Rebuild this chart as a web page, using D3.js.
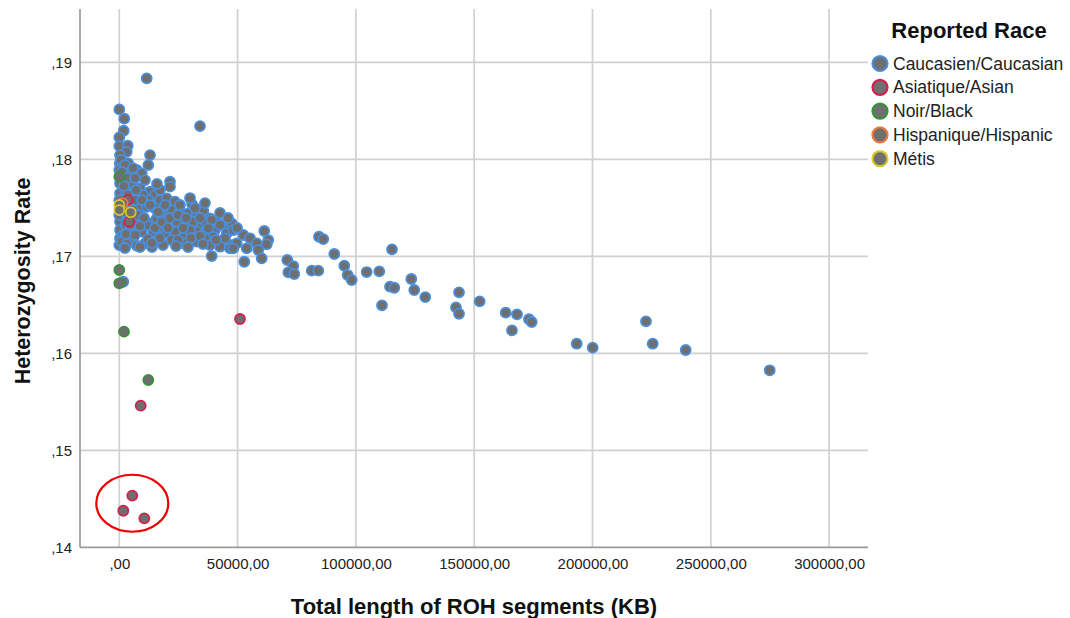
<!DOCTYPE html>
<html>
<head>
<meta charset="utf-8">
<script src="https://cdn.jsdelivr.net/npm/d3@7"></script>
<style>
  body { margin: 0; background: #fff; }
  text { font-family: "Liberation Sans", Arial, sans-serif; }
</style>
</head>
<body>
<script>
// chart size
var w = 1070;
var h = 618;

// axis ticks
var xTicks = [0, 50000, 100000, 150000, 200000, 250000, 300000];
var xTickLabels = [",00", "50000,00", "100000,00", "150000,00", "200000,00", "250000,00", "300000,00"];
var yTicks = [0.14, 0.15, 0.16, 0.17, 0.18, 0.19];
var yTickLabels = [",14", ",15", ",16", ",17", ",18", ",19"];

// groups (legend order)
var groups = ["Caucasien/Caucasian", "Asiatique/Asian", "Noir/Black", "Hispanique/Hispanic", "Métis"];
var groupColors = ["#4a8fdc", "#d3204f", "#3a8f3a", "#e57a3c", "#d6c62c"];

// [ROH total length (KB), heterozygosity rate]
var caucasian = [
  [11580, .18835], [0, .18515], [2110, .18419], [34110, .18343], [1860, .18295],
  [0, .18227], [0, .18137], [3550, .18140], [12980, .18044], [3130, .18078],
  [300, .18044], [200, .17959], [3800, .17959], [12260, .17941], [4520, .17872],
  [7350, .17890], [9470, .17856], [21430, .17769], [21430, .17718], [300, .17753],
  [5240, .17753], [8750, .17701], [12980, .17666], [15090, .17632], [12260, .17580],
  [17200, .17580], [20030, .17598], [23540, .17563], [300, .17649], [5920, .17632],
  [8750, .17495], [11580, .17511], [15090, .17495], [19320, .17426], [22150, .17477],
  [25650, .17460], [29160, .17443], [32710, .17426], [35500, .17470], [300, .17357],
  [7350, .17374], [12980, .17340], [15810, .17392], [20030, .17340], [24260, .17357],
  [27770, .17323], [31280, .17357], [34830, .17323], [38330, .17392], [41170, .17357],
  [44670, .17323], [47510, .17340], [300, .17271], [4520, .17271], [9470, .17254],
  [14370, .17254], [19320, .17237], [23540, .17254], [27770, .17220], [32710, .17254],
  [36940, .17271], [40450, .17271], [45390, .17237], [48180, .17271], [300, .17186],
  [5920, .17186], [10860, .17134], [16480, .17151], [22150, .17168], [27050, .17134],
  [32710, .17151], [38330, .17186], [43960, .17168], [47510, .17116], [49620, .17134],
  [36220, .17357], [39050, .17374], [42560, .17323], [37620, .17289], [39730, .17202],
  [44670, .17186], [36220, .17186], [38330, .17116], [42560, .17099], [46790, .17082],
  [39050, .17003], [48180, .17082], [52410, .17220], [55240, .17186], [53850, .17082],
  [58070, .17134], [58750, .17065], [60180, .16979], [52830, .16944], [61280, .17261],
  [62970, .17168], [62300, .17124], [71000, .16962], [73540, .16900], [71430, .16835],
  [73960, .16818], [81320, .16852], [84110, .16852], [84400, .17202], [86220, .17178],
  [90870, .17024], [95100, .16903], [96530, .16807], [98220, .16756], [104560, .16838],
  [109890, .16845], [115260, .17072], [114410, .16687], [116230, .16676], [111030, .16495],
  [123410, .16766], [124680, .16653], [129330, .16580], [143580, .16629], [142310, .16474],
  [143580, .16408], [152320, .16536], [163310, .16419], [168090, .16402], [165970, .16237],
  [173160, .16351], [174300, .16323], [193320, .16099], [200080, .16058], [222610, .16330],
  [225440, .16099], [239390, .16034], [274900, .15825], [1690, .16738],
  [0, .17890], [0, .17580], [0, .17426], [0, .17116], [700, .17995], [1100, .17807],
  [2400, .17684], [2800, .17323], [1600, .17220], [1100, .17150], [2000, .17511],
  [3300, .17426], [6640, .17580], [10000, .17632], [17200, .17446], [11700, .17323],
  [16360, .17292], [29880, .17271], [24800, .17168], [18470, .17116], [7480, .17107],
  [13820, .17096], [30720, .17539],
  [2410, .17941], [5790, .17910], [1140, .17869], [3250, .17807], [6640, .17807],
  [10860, .17786], [1990, .17725], [7060, .17684], [3680, .17632], [9600, .17580],
  [12980, .17529], [2410, .17457], [5790, .17477], [7900, .17426], [10440, .17395],
  [4520, .17323], [8750, .17312], [15090, .17292], [2830, .17230], [6640, .17220],
  [12130, .17178], [17200, .17189], [3250, .17127], [8750, .17096], [13820, .17137],
  [18050, .17354], [17200, .17684], [15930, .17746], [19320, .17529], [16360, .17457],
  [2410, .17086], [21430, .17395], [24800, .17426], [28190, .17395], [31980, .17498],
  [26920, .17292], [30300, .17189], [34110, .17209], [35380, .17127], [29040, .17096],
  [23960, .17106], [20580, .17292], [25650, .17529], [40870, .17168], [42560, .17447],
  [45950, .17395], [49750, .17292], [34110, .17395], [36220, .17549], [29880, .17601]
];
var asian = [
  [3550, .17580], [4230, .17357], [51010, .16354], [9040, .15460],
  [5490, .14532], [1690, .14377], [10570, .14299]
];
var black = [
  [0, .17821], [0, .16859], [0, .16722], [1990, .16223], [12260, .15725]
];
var hispanic = [
  [1440, .17546]
];
var metis = [
  [0, .17529], [0, .17477], [4820, .17454]
];
var seriesData = [caucasian, asian, black, hispanic, metis];

// highlighted outliers (centre in data units)
var ringCentre = [5490, 0.14454];

var plot = { left: 80, right: 868, top: 9, bottom: 547.3 };

var xScale = d3.scaleLinear()
  .domain([-16610, 316441])
  .range([plot.left, plot.right]);

var yScale = d3.scaleLinear()
  .domain([0.14, 0.1955])
  .range([plot.bottom, plot.top]);

var svg = d3.select("body")
  .append("svg")
  .attr("width", w)
  .attr("height", h);

//gridlines
svg.append("g")
  .selectAll("line")
  .data(yTicks.slice(1))
  .enter()
  .append("line")
  .attr("x1", plot.left)
  .attr("x2", plot.right)
  .attr("y1", function(d) { return yScale(d); })
  .attr("y2", function(d) { return yScale(d); })
  .attr("stroke", "#d0d0d0")
  .attr("stroke-width", 1.7);

svg.append("g")
  .selectAll("line")
  .data(xTicks)
  .enter()
  .append("line")
  .attr("x1", function(d) { return xScale(d); })
  .attr("x2", function(d) { return xScale(d); })
  .attr("y1", plot.top)
  .attr("y2", plot.bottom)
  .attr("stroke", "#d0d0d0")
  .attr("stroke-width", 1.7);

//axes
var xAxis = d3.axisBottom(xScale)
  .tickValues(xTicks)
  .tickFormat(function(d, i) { return xTickLabels[i]; })
  .tickSize(0)
  .tickPadding(11);

var yAxis = d3.axisLeft(yScale)
  .tickValues(yTicks)
  .tickFormat(function(d, i) { return yTickLabels[i]; })
  .tickSize(0)
  .tickPadding(8);

var gx = svg.append("g")
  .attr("transform", "translate(0," + plot.bottom + ")")
  .call(xAxis);
var gy = svg.append("g")
  .attr("transform", "translate(" + plot.left + ",0)")
  .call(yAxis);

[gx, gy].forEach(function(g) {
  g.select(".domain").remove();
  g.selectAll("text")
    .attr("font-family", "'Liberation Sans', Arial, sans-serif")
    .attr("font-size", "15px")
    .attr("fill", "#222");
});

svg.append("line")
  .attr("x1", plot.left).attr("x2", plot.right)
  .attr("y1", plot.bottom).attr("y2", plot.bottom)
  .attr("stroke", "#9a9a9a").attr("stroke-width", 1.7);
svg.append("line")
  .attr("x1", plot.left).attr("x2", plot.left)
  .attr("y1", plot.top).attr("y2", plot.bottom)
  .attr("stroke", "#9a9a9a").attr("stroke-width", 1.7);

//points
seriesData.forEach(function(pts, gi) {
  svg.append("g")
    .selectAll("circle")
    .data(pts)
    .enter()
    .append("circle")
    .attr("cx", function(d) { return xScale(d[0]); })
    .attr("cy", function(d) { return yScale(d[1]); })
    .attr("r", 5)
    .attr("fill", "#6f6f6f")
    .attr("stroke", groupColors[gi])
    .attr("stroke-width", 1.8);
});

//red ring around the low outliers
svg.append("ellipse")
  .attr("cx", xScale(ringCentre[0]))
  .attr("cy", yScale(ringCentre[1]))
  .attr("rx", 36)
  .attr("ry", 28.5)
  .attr("fill", "none")
  .attr("stroke", "#ee0000")
  .attr("stroke-width", 2.2);

//axis titles
svg.append("text")
  .attr("x", 474)
  .attr("y", 614)
  .attr("text-anchor", "middle")
  .attr("font-size", "22px")
  .attr("font-weight", "bold")
  .attr("fill", "#111")
  .text("Total length of ROH segments (KB)");

svg.append("text")
  .attr("transform", "translate(30,281) rotate(-90)")
  .attr("text-anchor", "middle")
  .attr("font-size", "21.5px")
  .attr("font-weight", "bold")
  .attr("fill", "#111")
  .text("Heterozygosity Rate");

//legend
var legend = svg.append("g");
legend.append("text")
  .attr("x", 969)
  .attr("y", 38)
  .attr("text-anchor", "middle")
  .attr("font-size", "22px")
  .attr("font-weight", "bold")
  .attr("fill", "#111")
  .text("Reported Race");

var items = legend.selectAll("g.item")
  .data(groups)
  .enter()
  .append("g")
  .attr("class", "item")
  .attr("transform", function(d, i) {
    return "translate(880," + (63.5 + i * 23.8) + ")";
  });

items.append("circle")
  .attr("r", 7.5)
  .attr("fill", "#6f6f6f")
  .attr("stroke", function(d, i) { return groupColors[i]; })
  .attr("stroke-width", 2.2);

items.append("text")
  .attr("x", 13)
  .attr("y", 6)
  .attr("font-size", "17.5px")
  .attr("fill", "#222")
  .text(function(d) { return d; });
</script>
</body>
</html>
